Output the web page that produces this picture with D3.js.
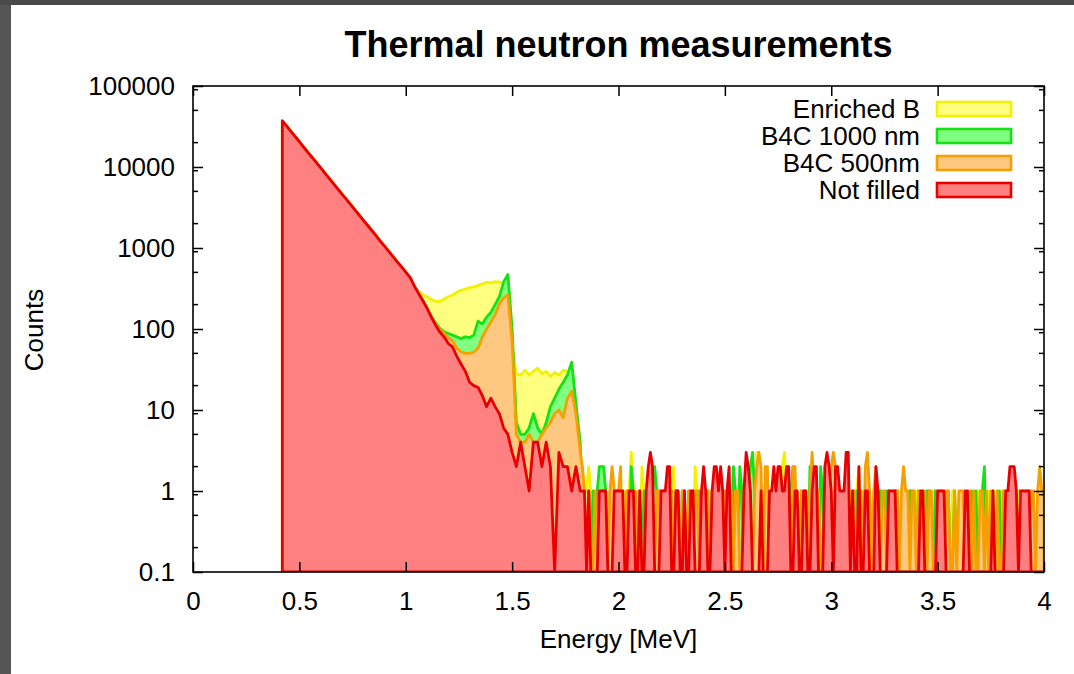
<!DOCTYPE html>
<html><head><meta charset="utf-8">
<script src="https://cdn.jsdelivr.net/npm/d3@7"></script>
<style>
html,body{margin:0;padding:0;background:#fff;}
svg{display:block;}
text{font-family:"Liberation Sans",Arial,Helvetica,sans-serif;fill:#000;}
</style>
</head><body>
<svg id="chart" width="1074" height="674"></svg>
<script>
// ---------------- DATA ----------------
const title = "Thermal neutron measurements";
const xLabel = "Energy [MeV]";
const yLabel = "Counts";
const xTicks = [0, 0.5, 1, 1.5, 2, 2.5, 3, 3.5, 4];
const xTickLabels = ["0", "0.5", "1", "1.5", "2", "2.5", "3", "3.5", "4"];
const yTicks = [0.1, 1, 10, 100, 1000, 10000, 100000];
const yTickLabels = ["0.1", "1", "10", "100", "1000", "10000", "100000"];
const seriesNames = ["Enriched B", "B4C 1000 nm", "B4C 500nm", "Not filled"];

// energy bins: 0.42 .. 1.82 MeV every 0.02, then 1.83 .. 4.00 MeV every 0.01
const coarseStart = 0.42, coarseStep = 0.02, coarseCount = 71;
const fineStart = 1.83, fineStep = 0.01, fineCount = 218;

// common part of all four spectra (0.42 .. 1.02 MeV)
const commonHead = [37000, 31900, 27500, 23700, 20500, 17600, 15200, 13100, 11300, 9750,
  8400, 7240, 6250, 5380, 4640, 4010, 3450, 2980, 2570, 2210,
  1910, 1650, 1420, 1220, 1055, 910, 784, 676, 583, 503, 434];

// 1.04 .. 1.82 MeV
const enrichedMid = [330, 295, 265, 250, 232, 220, 218, 235, 250, 262,
  285, 300, 310, 325, 330, 345, 360, 380, 370, 385,
  380, 360, 300, 60, 28, 27, 31, 27, 30, 33,
  28, 30, 26, 29, 27, 31, 30, 28, 10, 2];
const b4c1000Mid = [340, 275, 225, 182, 145, 120, 102, 92, 88, 84,
  80, 76, 80, 78, 84, 125, 115, 140, 160, 200,
  250, 380, 470, 100, 7, 5, 5, 6, 9, 6,
  5, 7, 11, 14, 18, 22, 27, 39, 12, 4];
const b4c500Mid = [340, 275, 225, 180, 142, 115, 98, 88, 78, 72,
  58, 52, 50, 50, 52, 58, 80, 100, 122, 150,
  205, 240, 265, 70, 5, 4, 4, 5, 4, 4,
  5, 6, 7, 9, 10, 8, 14, 17, 9, 3];
const notFilledMid = [340, 275, 225, 180, 140, 112, 92, 80, 66, 60,
  46, 37, 30, 22, 20, 19, 15, 11, 14, 11,
  9, 6, 5, 3, 2, 4, 2, 1, 4, 4,
  2, 4, 2, 0, 3, 2, 2, 1, 2, 1];

// 1.83 .. 4.00 MeV (0.01 MeV bins)
const enrichedTail = [
  2,1,1,2,1,0,1,0,1,1,  0,1,0,1,1,0,1,0,0,1,  1,0,1,3,1,0,1,0,2,1,  0,1,0,0,1,0,1,1,0,1,
  1,0,1,2,0,1,0,0,1,0,  0,1,0,2,1,0,1,0,1,0,  1,0,1,0,0,1,0,1,0,1,  0,1,0,1,0,1,1,0,0,1,
  1,1,3,0,1,0,1,0,1,0,  1,0,1,0,2,3,1,0,1,0,  0,1,0,0,1,0,1,1,0,1,  1,0,1,0,0,1,0,0,1,0,
  0,1,0,1,0,0,1,0,0,1,  2,0,1,0,0,1,0,1,0,0,  1,0,1,0,0,1,0,0,1,1,  0,1,0,0,1,0,0,1,0,0,
  1,0,0,1,0,1,1,0,0,1,  0,0,1,0,1,1,0,0,1,0,  1,0,1,0,0,0,1,0,0,1,  0,1,0,0,1,0,0,1,1,0,
  0,0,1,0,0,1,0,0,0,1,  0,1,0,0,1,0,1,0];
const b4c1000Tail = [
  1,0,0,1,0,1,0,1,2,2,  2,1,0,1,0,0,1,0,1,0,  0,1,0,2,1,0,0,1,0,1,  0,1,0,1,2,1,0,0,1,0,
  1,0,0,0,1,1,0,1,0,0,  1,0,1,0,0,1,0,0,1,0,  0,1,0,1,0,0,1,0,1,1,  0,2,1,0,2,1,0,0,1,2,
  3,1,0,0,1,0,1,0,0,1,  0,1,0,0,1,0,1,0,1,2,  1,0,0,1,0,1,0,2,1,0,  1,0,2,1,0,0,1,0,0,1,
  0,1,0,0,1,0,0,1,0,1,  1,0,0,1,0,1,0,0,1,0,  1,0,0,1,0,0,0,1,1,0,  0,0,1,0,1,1,0,0,1,0,
  0,0,1,1,0,0,1,0,0,0,  0,0,1,0,0,1,0,0,0,0,  0,0,0,1,0,1,0,0,1,2,  0,0,0,1,0,0,1,0,0,1,
  0,0,1,0,0,0,1,0,0,0,  1,0,0,0,0,1,0,0];
const b4c500Tail = [
  2,1,0,1,0,0,1,0,0,1,  1,0,0,1,2,1,0,1,2,0,  0,1,1,0,0,1,0,1,0,0,  1,0,2,1,0,1,1,0,1,0,
  0,1,1,0,1,0,0,1,1,0,  1,0,0,1,1,0,1,0,0,1,  0,1,0,0,1,1,0,1,0,1,  1,0,1,1,0,0,1,2,1,0,
  0,1,2,3,2,0,2,2,0,1,  0,1,0,1,1,0,0,1,0,2,  2,0,0,1,0,1,0,1,3,1,  0,1,0,0,1,0,1,2,3,2,
  1,0,1,0,0,1,0,1,1,0,  0,1,0,2,3,1,0,1,2,0,  0,1,1,0,1,0,0,1,1,0,  1,2,1,1,0,1,1,0,1,0,
  0,1,0,1,1,0,0,1,0,1,  0,1,1,0,0,1,0,1,1,1,  0,0,1,0,1,0,0,1,1,0,  1,0,1,0,0,1,0,0,1,0,
  0,1,0,1,1,0,0,1,0,1,  0,1,1,0,1,2,1,1];
const notFilledTail = [
  1,1,0,1,0,0,0,0,1,1,  1,1,0,0,0,1,1,1,1,1,  0,0,1,1,1,0,0,1,0,0,  1,2,3,2,0,0,0,1,1,1,
  2,2,0,0,1,1,0,0,1,0,  0,1,1,0,0,0,1,2,1,0,  0,1,2,2,1,2,1,0,1,2,  0,0,0,0,0,0,1,3,2,1,
  0,0,0,0,1,0,0,0,1,1,  2,1,2,2,1,1,2,2,0,0,  1,1,0,0,1,1,0,0,1,2,  2,0,0,0,2,3,2,1,0,2,
  2,1,1,1,3,3,0,1,0,0,  2,0,0,1,1,0,0,0,2,1,  0,0,0,0,1,1,1,1,0,0,  0,0,0,0,0,0,0,0,0,1,
  1,0,0,0,0,0,0,1,1,1,  1,0,0,0,0,0,0,0,0,0,  1,1,0,0,0,0,0,0,0,0,  0,0,0,1,0,0,0,0,0,1,
  1,2,2,2,1,0,1,1,1,1,  1,0,0,0,0,0,0,0];

const enrichedB = commonHead.concat(enrichedMid, enrichedTail);
const b4c1000 = commonHead.concat(b4c1000Mid, b4c1000Tail);
const b4c500 = commonHead.concat(b4c500Mid, b4c500Tail);
const notFilled = commonHead.concat(notFilledMid, notFilledTail);

const lineColors = ["#f2f200", "#16e016", "#f5a000", "#e80000"];
const fillColors = ["#ffff80", "#80ff80", "#ffc880", "#ff8080"];

// ---------------- DRAW ----------------
const svg = d3.select("#chart");
const W = 1074, H = 674;
const L = 193, R = 1044, T = 86, B = 572;

svg.append("rect").attr("x", 0).attr("y", 0).attr("width", W).attr("height", H).attr("fill", "#fff");
svg.append("rect").attr("x", 0).attr("y", 0).attr("width", 11).attr("height", H).attr("fill", "#555");
svg.append("rect").attr("x", 0).attr("y", 0).attr("width", W).attr("height", 5).attr("fill", "#4a4a4a");

const x = d3.scaleLinear().domain([0, 4]).range([L, R]);
const y = d3.scaleLog().domain([0.1, 100000]).range([B, T]).clamp(true);
const yv = v => y(Math.max(v, 0.1));

const energies = d3.range(coarseCount).map(i => +(coarseStart + coarseStep * i).toFixed(2))
  .concat(d3.range(fineCount).map(i => +(fineStart + fineStep * i).toFixed(2)));
const allSeries = [enrichedB, b4c1000, b4c500, notFilled];

svg.append("clipPath").attr("id", "clip").append("rect")
  .attr("x", L).attr("y", T).attr("width", R - L).attr("height", B - T);

const area = d3.area().x(d => x(d.e)).y0(B).y1(d => yv(d.v));
const gPlot = svg.append("g").attr("clip-path", "url(#clip)");
allSeries.forEach((vals, si) => {
  const pts = vals.map((v, i) => ({e: energies[i], v: v}));
  gPlot.append("path").attr("d", area(pts))
    .attr("fill", fillColors[si]).attr("stroke", lineColors[si])
    .attr("stroke-width", 2.8).attr("stroke-linejoin", "round");
});

// axes (ticks inward, mirrored)
const fmtX = d => xTickLabels[xTicks.indexOf(d)];
const fmtY = d => yTickLabels[yTicks.findIndex(t => Math.abs(t - d) / t < 1e-9)];
const axB = svg.append("g").attr("transform", `translate(0,${B})`)
  .call(d3.axisBottom(x).tickValues(xTicks).tickFormat(fmtX).tickSize(-10).tickSizeOuter(0).tickPadding(20));
const axT = svg.append("g").attr("transform", `translate(0,${T})`)
  .call(d3.axisTop(x).tickValues(xTicks).tickFormat("").tickSize(-10).tickSizeOuter(0));
const axL = svg.append("g").attr("transform", `translate(${L},0)`)
  .call(d3.axisLeft(y).tickValues(yTicks).tickFormat(fmtY).tickSize(-10).tickSizeOuter(0).tickPadding(18));
const axR = svg.append("g").attr("transform", `translate(${R},0)`)
  .call(d3.axisRight(y).tickValues(yTicks).tickFormat("").tickSize(-10).tickSizeOuter(0));
[axB, axT, axL, axR].forEach(g => {
  g.select(".domain").remove();
  g.selectAll(".tick line").attr("stroke", "#000").attr("stroke-width", 1.5);
  g.selectAll("text").attr("font-size", 26).attr("font-family", "Liberation Sans, Arial, sans-serif").attr("fill", "#000");
});
// minor log ticks
const minorVals = [];
[0.1, 1, 10, 100, 1000, 10000].forEach(dec => [2, 5, 9].forEach(m => minorVals.push(dec * m)));
const gMinor = svg.append("g");
minorVals.forEach(v => {
  gMinor.append("line").attr("x1", L).attr("x2", L + 5).attr("y1", y(v)).attr("y2", y(v)).attr("stroke", "#000").attr("stroke-width", 1.5);
  gMinor.append("line").attr("x1", R).attr("x2", R - 5).attr("y1", y(v)).attr("y2", y(v)).attr("stroke", "#000").attr("stroke-width", 1.5);
});
// frame
svg.append("rect").attr("x", L).attr("y", T).attr("width", R - L).attr("height", B - T)
  .attr("fill", "none").attr("stroke", "#000").attr("stroke-width", 1.6);

// titles
svg.append("text").attr("x", (L + R) / 2).attr("y", 57).attr("text-anchor", "middle")
  .attr("font-size", 36).attr("font-weight", "bold").text(title);
svg.append("text").attr("x", (L + R) / 2).attr("y", 648).attr("text-anchor", "middle")
  .attr("font-size", 26).text(xLabel);
svg.append("text").attr("transform", "translate(43,330) rotate(-90)").attr("text-anchor", "middle")
  .attr("font-size", 26).text(yLabel);

// legend
const legendRowY = [109, 136, 163, 190];
seriesNames.forEach((name, i) => {
  svg.append("text").attr("x", 920).attr("y", legendRowY[i] + 9).attr("text-anchor", "end")
    .attr("font-size", 26).text(name);
  svg.append("rect").attr("x", 937).attr("y", legendRowY[i] - 7).attr("width", 74).attr("height", 14)
    .attr("fill", fillColors[i]).attr("stroke", lineColors[i]).attr("stroke-width", 2.6);
});
</script>
</body></html>
